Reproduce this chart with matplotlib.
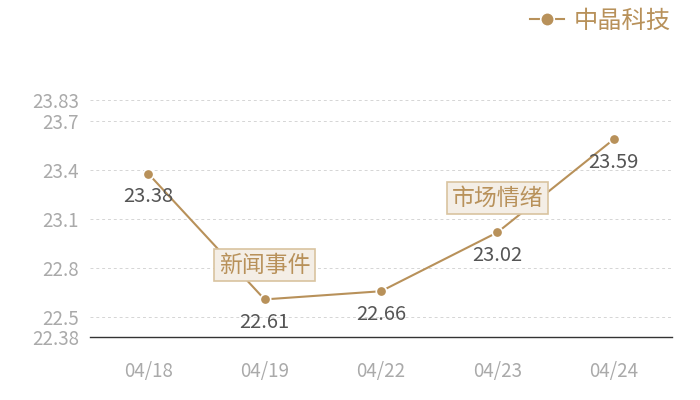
import numpy as np
import matplotlib.pyplot as plt

plt.rcParams['font.family'] = ['Noto Sans CJK SC', 'DejaVu Sans']

# data
dates = ['04/18', '04/19', '04/22', '04/23', '04/24']
prices = [23.38, 22.61, 22.66, 23.02, 23.59]
yticks = [22.38, 22.5, 22.8, 23.1, 23.4, 23.7, 23.83]
series_name = '中晶科技'
events = {1: '新闻事件', 3: '市场情绪'}

gold = '#b8915a'
gray = '#aaaaaa'

fig = plt.figure(figsize=(7, 4), dpi=100)
ax = fig.add_axes([90 / 700, 1 - 337 / 400, 582 / 700, 237 / 400])

x = np.arange(len(dates))
line, = ax.plot(x, prices, color=gold, lw=1.5, marker='o', markersize=7.5,
                markerfacecolor=gold, markeredgecolor='white', markeredgewidth=1.2,
                label=series_name, zorder=3)

# value labels under each point
for xi, yi in zip(x, prices):
    ax.annotate(f'{yi:.2f}', (xi, yi), xytext=(0, -16.5), textcoords='offset points',
                ha='center', va='center', fontsize=14.5, color='#555555', zorder=4)

# event boxes
for i, txt in events.items():
    ax.annotate(txt, (x[i], prices[i]), xytext=(0, 24.5), textcoords='offset points',
                ha='center', va='center', fontsize=16.5, color=gold, zorder=5,
                bbox=dict(boxstyle='square,pad=0.2', fc='#f4eee6', ec='#d9c3a0', lw=1.2))

ax.set_xlim(-0.5, len(dates) - 0.5)
ax.set_ylim(yticks[0], yticks[-1])
ax.set_xticks(x)
ax.set_xticklabels(dates)
ax.set_yticks(yticks)
ax.set_yticklabels([f'{t:g}' for t in yticks])
ax.tick_params(axis='both', length=0, colors=gray, labelsize=13.5)
ax.tick_params(axis='x', pad=17)
ax.tick_params(axis='y', pad=8)
ax.grid(axis='y', linestyle=(0, (3, 3)), color='#d5d5d5', lw=0.7)
for s in ['top', 'right', 'left']:
    ax.spines[s].set_visible(False)
ax.spines['bottom'].set_color('#333333')
ax.spines['bottom'].set_linewidth(1)

leg = fig.legend(handles=[line], loc='upper right', bbox_to_anchor=(0.99, 1.035),
                 frameon=False, fontsize=17.5, handlelength=1.4, handletextpad=0.4,
                 markerscale=1.3)
for t in leg.get_texts():
    t.set_color(gold)

fig.savefig('out.png', dpi=100)
